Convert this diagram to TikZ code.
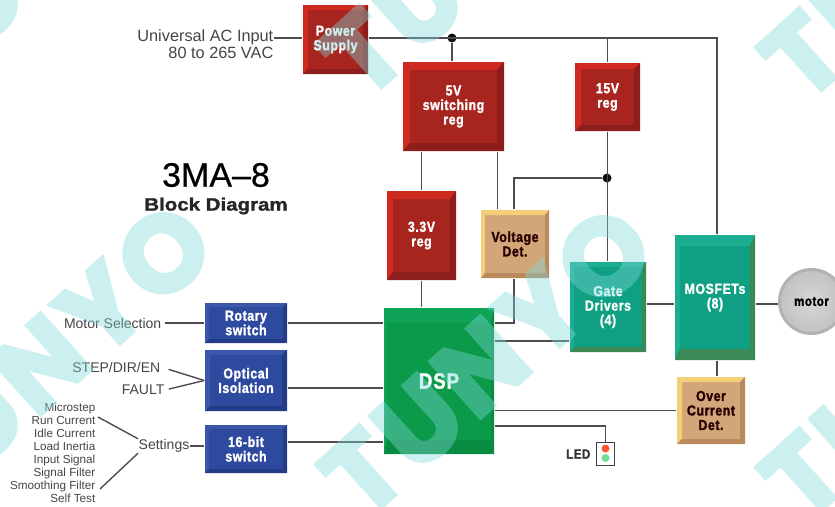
\documentclass[tikz,border=0pt]{standalone}
\usepackage{fontspec}
\setmainfont{Liberation Sans}
\newfontfamily\blockfont[FakeStretch=0.85,LetterSpace=4,FakeBold=1.6]{Liberation Sans}
\newfontfamily\titlefont[FakeStretch=1.15,FakeBold=1.5]{Liberation Sans}
\newfontfamily\modelfont[FakeBold=0.6]{Liberation Sans}
\newfontfamily\markfont[LetterSpace=4.5,FakeBold=3.5]{Poppins}
\definecolor{wire}{HTML}{504B4E}
\definecolor{labelgrey}{HTML}{454545}
\definecolor{markcyan}{HTML}{7FD8D8}
\definecolor{redface}{HTML}{A8241F}\definecolor{redlight}{HTML}{CE2A1F}\definecolor{reddark}{HTML}{8E1E1B}
\definecolor{blueface}{HTML}{2E4A9F}\definecolor{bluelight}{HTML}{3A57AA}\definecolor{bluedark}{HTML}{243C88}
\definecolor{greenface}{HTML}{0A9A4A}\definecolor{greenlight}{HTML}{0FA358}\definecolor{greendark}{HTML}{098C42}
\definecolor{tealface}{HTML}{0FA083}\definecolor{teallight}{HTML}{1BAE90}\definecolor{tealdark}{HTML}{3B8A55}
\definecolor{tanface}{HTML}{D2A678}\definecolor{tanlight}{HTML}{F5CF78}\definecolor{tandark}{HTML}{B98A5C}
\tikzset{
  block/.style n args={5}{rectangle, inner sep=0pt, fill=#1, font=\blockfont\bfseries\fontsize{14.5}{14.5}\selectfont, text=white, align=center,
    path picture={
      \fill[#2] (path picture bounding box.north west) -- (path picture bounding box.north east) -- ([xshift=-#4pt,yshift=-#5pt]path picture bounding box.north east) -- ([xshift=#4pt,yshift=-#5pt]path picture bounding box.north west) -- cycle;
      \fill[#2] (path picture bounding box.north west) -- (path picture bounding box.south west) -- ([xshift=#4pt,yshift=#5pt]path picture bounding box.south west) -- ([xshift=#4pt,yshift=-#5pt]path picture bounding box.north west) -- cycle;
      \fill[#3] (path picture bounding box.south east) -- (path picture bounding box.north east) -- ([xshift=-#4pt,yshift=-#5pt]path picture bounding box.north east) -- ([xshift=-#4pt,yshift=#5pt]path picture bounding box.south east) -- cycle;
      \fill[#3] (path picture bounding box.south east) -- (path picture bounding box.south west) -- ([xshift=#4pt,yshift=#5pt]path picture bounding box.south west) -- ([xshift=-#4pt,yshift=#5pt]path picture bounding box.south east) -- cycle;
    }},
  redblock/.style 2 args={block={redface}{redlight}{reddark}{#1}{#2}},
  blueblock/.style 2 args={block={blueface}{bluelight}{bluedark}{#1}{#2}},
  greenblock/.style 2 args={block={greenface}{greenlight}{greendark}{#1}{#2}},
  tealblock/.style 2 args={block={tealface}{teallight}{tealdark}{#1}{#2}},
  tanblock/.style 2 args={block={tanface}{tanlight}{tandark}{#1}{#2}, text=black!85!red},
  label/.style={inner sep=0pt, text=labelgrey, align=right},
  wirejoin/.style={circle, fill=black!80!wire, inner sep=0pt, minimum size=9pt},
}
\begin{document}
\begin{tikzpicture}[x=1pt, y=-1pt, line width=1.4pt]
        \useasboundingbox (0, 0) rectangle (835, 506);

        \node[redblock={5}{5}, minimum width=65pt, minimum height=69pt] at (335.5, 39.5) (power) {Power\\Supply};
        \node[redblock={7}{8}, minimum width=101pt, minimum height=89pt] at (453.5, 106.5) (sw5v) {5V\\switching\\reg};
        \node[redblock={6}{6}, minimum width=65pt, minimum height=68pt] at (607.5, 97) (reg15v) {15V\\reg};
        \node[redblock={6}{8}, minimum width=69pt, minimum height=89pt] at (421.5, 235.5) (reg33v) {3.3V\\reg};
        \node[tanblock={4}{5}, minimum width=68pt, minimum height=68pt] at (515, 244) (voltdet) {Voltage\\Det.};
        \node[tealblock={4}{5}, minimum width=76pt, minimum height=90pt] at (608, 307) (gate) {Gate\\Drivers\\(4)};
        \node[tealblock={5}{11}, minimum width=80pt, minimum height=125pt] at (715, 297.5) (mosfet) {MOSFETs\\(8)};
        \node[tanblock={5}{5}, minimum width=68pt, minimum height=67pt] at (711, 410.5) (overcur) {Over\\Current\\Det.};
        \node[greenblock={3}{14}, minimum width=110pt, minimum height=146pt, font=\blockfont\bfseries\fontsize{22}{22}\selectfont] at (439, 381) (dsp) {DSP};
        \node[blueblock={4}{4}, minimum width=82pt, minimum height=40pt] at (246, 323) (rotary) {Rotary\\switch};
        \node[blueblock={5}{5}, minimum width=82pt, minimum height=61pt] at (246, 380.5) (optical) {Optical\\Isolation};
        \node[blueblock={4}{4}, minimum width=82pt, minimum height=48pt] at (246, 449) (sw16) {16-bit\\switch};
        \node[circle, draw=black!30, line width=3pt, inner color=black!16, outer color=black!24, minimum size=64pt, inner sep=0pt, font=\blockfont\bfseries\fontsize{13.5}{14}\selectfont] at (811.5, 301.5) (motor) {motor};

        \node[label, anchor=east, font=\fontsize{16.3}{18}\selectfont] at (274, 37) (acin) {Universal AC Input};
        \node[label, anchor=east, font=\fontsize{16.3}{18}\selectfont] at (274, 53) (acvolt) {80 to 265 VAC};
        \node[inner sep=0pt, font=\modelfont\fontsize{34}{36}\selectfont] at (216, 175) (model) {3MA–8};
        \node[inner sep=0pt, font=\titlefont\bfseries\fontsize{17.8}{20}\selectfont, text=black!85] at (216, 206) (subtitle) {Block Diagram};

        \node[label, anchor=east, font=\fontsize{14}{15}\selectfont] at (162, 323) (motorsel) {Motor Selection};
        \node[label, anchor=east, font=\fontsize{14}{15}\selectfont] at (161, 367) (stepdir) {STEP/DIR/EN};
        \node[label, anchor=east, font=\fontsize{14}{15}\selectfont] at (165, 390) (fault) {FAULT};
        \node[label, anchor=west, font=\fontsize{14}{15}\selectfont] at (138, 446) (settings) {Settings};
        \node[label, anchor=east, font=\fontsize{11.7}{13}\selectfont] at (96, 452.5) (settinglist) {Microstep\\Run Current\\Idle Current\\Load Inertia\\Input Signal\\Signal Filter\\Smoothing Filter\\Self Test};

        \node[draw=black!75, fill=white, line width=1pt, inner sep=0pt, minimum width=18pt, minimum height=23pt] at (605.5, 453.5) (led) {};
        \node[circle, fill=red!65!orange!80, inner sep=0pt, minimum size=8pt] at (605.5, 448.5) (ledred) {};
        \node[circle, fill=green!50!teal!55, inner sep=0pt, minimum size=8pt] at (605.5, 458) (ledgreen) {};
        \node[anchor=east, inner sep=0pt, font=\blockfont\bfseries\fontsize{13.5}{14}\selectfont, text=black!80] at (591, 454) (ledlabel) {LED};

        \node[wirejoin] at (452, 38) (join5v) {};
        \node[wirejoin] at (607, 178) (join15v) {};
        \coordinate (mainend) at (717, 38);
        \coordinate (listtop) at (98, 417);
        \coordinate (listbot) at (100, 489);
        \coordinate (voltjog) at (514, 178);
        \coordinate (voltdsp) at (514, 323);

        \draw[wire] (acin.east |- mainend) -- (power.west |- mainend);
        \draw[wire] (power.east |- mainend) -- (mainend) -- (mosfet.north -| mainend);
        \draw[wire] (join5v) -- (sw5v.north -| join5v);
        \draw[wire] (reg15v.north) -- (reg15v.north |- mainend);
        \draw[wire] (reg15v.south) -- (gate.north -| reg15v.south);
        \draw[wire] (join15v) -- (voltjog) -- (voltdet.north -| voltjog);
        \draw[wire] (sw5v.south -| reg33v) -- (reg33v.north);
        \draw[wire] (sw5v.south -| 497.5, 0) -- (voltdet.north -| 497.5, 0);
        \draw[wire] (reg33v.south) -- (dsp.north -| reg33v.south);
        \draw[wire] (voltdet.south -| voltjog) -- (voltdsp) -- (dsp.east |- voltdsp);
        \draw[wire] (dsp.east |- 0, 341) -- (gate.west |- 0, 341);
        \draw[wire] (gate.east |- 0, 304) -- (mosfet.west |- 0, 304);
        \draw[wire] (mosfet.east |- 0, 304) -- (motor.west |- 0, 304);
        \draw[wire] (mosfet.south -| mainend) -- (overcur.north -| mainend);
        \draw[wire] (overcur.west) -- (dsp.east |- overcur);
        \draw[wire] (dsp.east |- 0, 426) -- (led.north |- 0, 426) -- (led.north);

        \draw[wire, shorten <=3pt] (motorsel.east) -- (rotary.west);
        \draw[wire] (rotary.east) -- (dsp.west |- rotary);
        \draw[wire, shorten <=8pt] (stepdir.east) -- (optical.west);
        \draw[wire, shorten <=4pt] (fault.east) -- (optical.west);
        \draw[wire] (optical.east |- 0, 388) -- (dsp.west |- 0, 388);
        \draw[wire] (settings) -- (sw16.west |- settings);
        \draw[wire] (sw16.east |- 0, 442) -- (dsp.west |- 0, 442);
        \draw[wire] (listtop) -- (settings.north west);
        \draw[wire] (listbot) -- (settings.south west);

        % watermark
        \begin{scope}[transparency group, opacity=0.4]
        \clip (0, 0) rectangle (835, 506);
        \foreach \i/\mx/\my in {1/47/358, 2/487/361, 3/927/364, 4/47/-62, 5/487/-59, 6/927/-56}
            \node[rotate=42, inner sep=0pt, text=markcyan, font=\markfont\bfseries\fontsize{108}{108}\selectfont] at (\mx, \my) (mark\i) {TUNYO};
        \end{scope}
\end{tikzpicture}
\end{document}
